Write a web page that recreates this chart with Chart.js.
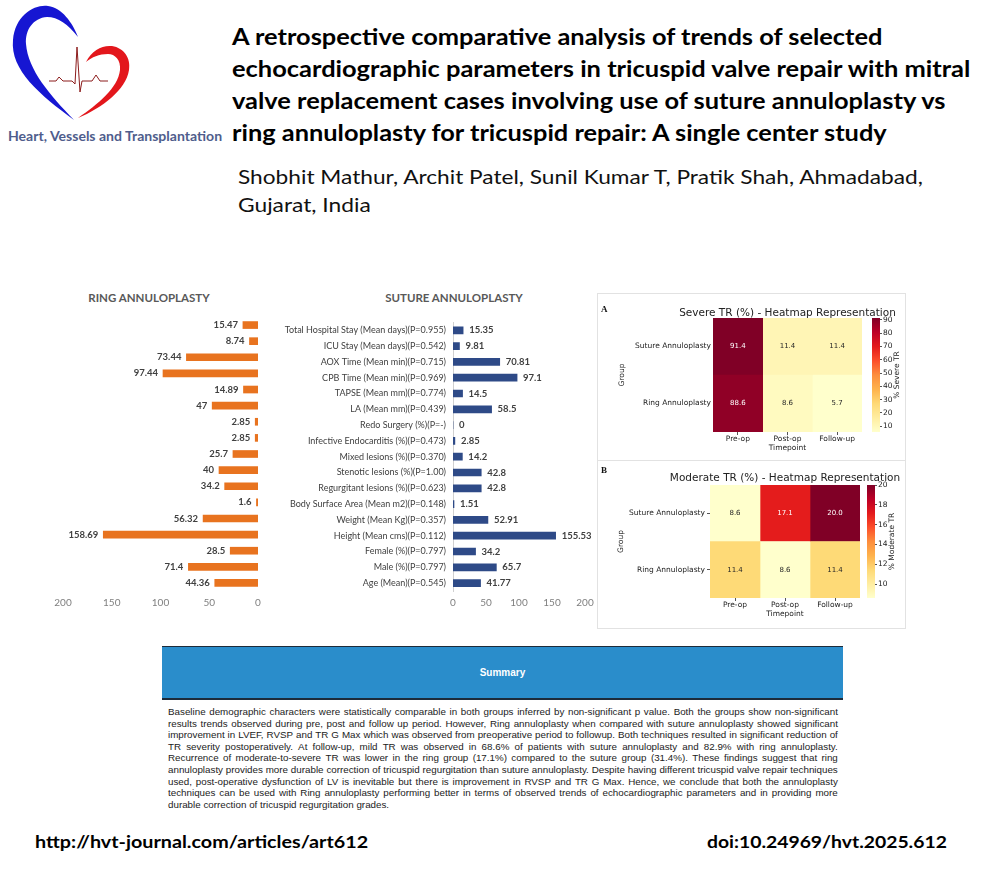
<!DOCTYPE html>
<html>
<head>
<meta charset="utf-8">
<script src="https://cdn.jsdelivr.net/npm/chart.js@4.4.1/dist/chart.umd.min.js"></script>
<style>
html, body { margin:0; padding:0; background:#fff; }
body { width:982px; height:870px; position:relative; overflow:hidden; font-family:Lato, "Open Sans", sans-serif; }
.fit { position:absolute; white-space:nowrap; transform-origin:0 50%; }
.ttl { font-weight:700; font-size:22px; line-height:32px; color:#000; }
.auth { font-size:19px; line-height:28px; color:#111; }
.box { position:absolute; }
.box canvas { display:block; }
.ctitle { position:absolute; font-weight:700; font-size:11.5px; color:#595959; white-space:nowrap; transform:translateX(-50%); line-height:14px; }
.panel { position:absolute; left:597px; top:293px; width:307px; height:334px; border:1px solid #e2e2e2; }
.sep { position:absolute; left:597px; top:460px; width:308px; height:1px; background:#e2e2e2; }
.plabel { position:absolute; font:bold 9px "Liberation Serif", serif; color:#111; }
.summary { position:absolute; left:162px; top:646px; width:681px; height:51px; background:#2A8DCB; border-top:1px solid #1d2b3a; border-bottom:2px solid #1d2b3a; color:#fff; font:bold 10px "Liberation Sans", Arial, sans-serif; text-align:center; line-height:51px; }
.sl { position:absolute; left:168px; white-space:nowrap; font:9.8px "Liberation Sans", Arial, sans-serif; color:#222; line-height:11.6px; transform-origin:0 50%; }
.foot { font-weight:700; font-size:17px; line-height:20px; color:#000; }
</style>
</head>
<body>

<svg class="box" style="left:0;top:0" width="140" height="125" viewBox="0 0 140 125">
  <path d="M74,120 C40,95 10,70 13,40 C15,15 35,4 48,6 C62,8 72,22 78,37 C68,24 58,17 47,17 C33,18 25,30 26,44 C28,70 50,95 74,120 Z" fill="#1616d2"/>
  <path d="M86,62 C92,50 102,45 112,46 C124,48 131,58 129,70 C126,90 102,108 78,118 C98,104 118,88 120,70 C121,60 115,54 108,54 C99,54 92,57 86,62 Z" fill="#e3171c"/>
  <polyline points="49,81 56,81 59,77 63,81 72,81 75,84 77,47 80,92 82,81 92,81 96,75 100,81 108,81" fill="none" stroke="#8c1c1c" stroke-width="1"/>
</svg>
<div class="fit" data-w="214" style="left:8px;top:128px;font-weight:700;font-size:13px;line-height:16px;color:#4f5d8c">Heart, Vessels and Transplantation</div>

<div class="fit ttl" data-w="650" style="left:232px;top:21px">A retrospective comparative analysis of trends of selected</div>
<div class="fit ttl" data-w="738" style="left:232px;top:53px">echocardiographic parameters in tricuspid valve repair with mitral</div>
<div class="fit ttl" data-w="713" style="left:232px;top:85px">valve replacement cases involving use of suture annuloplasty vs</div>
<div class="fit ttl" data-w="655" style="left:232px;top:117px">ring annuloplasty for tricuspid repair: A single center study</div>
<div class="fit auth" data-w="685" style="left:238px;top:163px">Shobhit Mathur, Archit Patel, Sunil Kumar T, Pratik Shah, Ahmadabad,</div>
<div class="fit auth" data-w="133" style="left:238px;top:191px">Gujarat, India</div>

<div class="ctitle" style="left:149px;top:291px">RING ANNULOPLASTY</div>
<div class="ctitle" style="left:454px;top:291px">SUTURE ANNULOPLASTY</div>
<div class="box" style="left:40px;top:310px;width:235px;height:305px"><canvas id="ringChart"></canvas></div>
<div class="box" style="left:270px;top:310px;width:330px;height:305px"><canvas id="sutureChart"></canvas></div>

<div class="panel"></div>
<div class="sep"></div>
<div class="plabel" style="left:601px;top:304px">A</div>
<div class="plabel" style="left:601px;top:465px">B</div>
<div class="box" style="left:598px;top:297px;width:307px;height:162px"><canvas id="severeMap"></canvas></div>
<div class="box" style="left:866px;top:297px;width:39px;height:162px"><canvas id="severeBar"></canvas></div>
<div class="box" style="left:598px;top:461px;width:307px;height:167px"><canvas id="moderateMap"></canvas></div>
<div class="box" style="left:862px;top:461px;width:43px;height:167px"><canvas id="moderateBar"></canvas></div>

<div class="summary">Summary</div>
<div class="sl" style="top:706px">Baseline demographic characters were statistically comparable in both groups inferred by non-significant p value. Both the groups show non-significant</div>
<div class="sl" style="top:717.6px">results trends observed during pre, post and follow up period. However, Ring annuloplasty when compared with suture annuloplasty showed significant</div>
<div class="sl" style="top:729.2px">improvement in LVEF, RVSP and TR G Max which was observed from preoperative period to followup. Both techniques resulted in significant reduction of</div>
<div class="sl" style="top:740.8px">TR severity postoperatively. At follow-up, mild TR was observed in 68.6% of patients with suture annuloplasty and 82.9% with ring annuloplasty.</div>
<div class="sl" style="top:752.4px">Recurrence of moderate-to-severe TR was lower in the ring group (17.1%) compared to the suture group (31.4%). These findings suggest that ring</div>
<div class="sl" style="top:764px">annuloplasty provides more durable correction of tricuspid regurgitation than suture annuloplasty. Despite having different tricuspid valve repair techniques</div>
<div class="sl" style="top:775.6px">used, post-operative dysfunction of LV is inevitable but there is improvement in RVSP and TR G Max. Hence, we conclude that both the annuloplasty</div>
<div class="sl" style="top:787.2px">techniques can be used with Ring annuloplasty performing better in terms of observed trends of echocardiographic parameters and in providing more</div>
<div class="sl last" style="top:798.8px">durable correction of tricuspid regurgitation grades.</div>

<div class="fit foot" data-w="333" style="left:35px;top:832px">http://hvt-journal.com/articles/art612</div>
<div class="fit foot" data-w="240" style="left:707px;top:832px">doi:10.24969/hvt.2025.612</div>

<script>
// bar chart data (top to bottom)
const categories = [
  'Total Hospital Stay (Mean days)(P=0.955)', 'ICU Stay (Mean days)(P=0.542)',
  'AOX Time (Mean min)(P=0.715)', 'CPB Time (Mean min)(P=0.969)',
  'TAPSE (Mean mm)(P=0.774)', 'LA (Mean mm)(P=0.439)', 'Redo Surgery (%)(P=-)',
  'Infective Endocarditis (%)(P=0.473)', 'Mixed lesions (%)(P=0.370)',
  'Stenotic lesions (%)(P=1.00)', 'Regurgitant lesions (%)(P=0.623)',
  'Body Surface Area (Mean m2)(P=0.148)', 'Weight (Mean Kg)(P=0.357)',
  'Height (Mean cms)(P=0.112)', 'Female (%)(P=0.797)', 'Male (%)(P=0.797)', 'Age (Mean)(P=0.545)'
];
const ringValues = [15.47, 8.74, 73.44, 97.44, 14.89, 47, 2.85, 2.85, 25.7, 40, 34.2, 1.6, 56.32, 158.69, 28.5, 71.4, 44.36];
const sutureValues = [15.35, 9.81, 70.81, 97.1, 14.5, 58.5, 0, 2.85, 14.2, 42.8, 42.8, 1.51, 52.91, 155.53, 34.2, 65.7, 41.77];
const barTicks = [0, 50, 100, 150, 200];

// heatmap data
const timepoints = ['Pre-op', 'Post-op', 'Follow-up'];
const groups = ['Suture Annuloplasty', 'Ring Annuloplasty'];
const severeSuture = [91.4, 11.4, 11.4];
const severeRing = [88.6, 8.6, 5.7];
const moderateSuture = [8.6, 17.1, 20.0];
const moderateRing = [11.4, 8.6, 11.4];
const severeTicks = [10, 20, 30, 40, 50, 60, 70, 80, 90];
const moderateTicks = [10, 12, 14, 16, 18, 20];

const ringColor = '#E8731F';
const sutureColor = '#2E4A87';
const ylOrRdStops = ['#ffffcc', '#ffeda0', '#fed976', '#feb24c', '#fd8d3c', '#fc4e2a', '#e31a1c', '#bd0026', '#800026'];

Chart.defaults.font.family = 'Lato';
Chart.defaults.animation = false;
Chart.defaults.plugins.legend.display = false;
Chart.defaults.plugins.tooltip.enabled = false;

function hexRgb(h) {
  return [parseInt(h.slice(1, 3), 16), parseInt(h.slice(3, 5), 16), parseInt(h.slice(5, 7), 16)];
}
function ylOrRd(t) {
  t = Math.max(0, Math.min(1, t));
  const p = t * (ylOrRdStops.length - 1);
  const i = Math.min(Math.floor(p), ylOrRdStops.length - 2);
  const f = p - i;
  const a = hexRgb(ylOrRdStops[i]), b = hexRgb(ylOrRdStops[i + 1]);
  return a.map((c, k) => Math.round(c + (b[k] - c) * f));
}
function luminance(rgb) {
  const l = rgb.map(c => { c /= 255; return c <= 0.03928 ? c / 12.92 : Math.pow((c + 0.055) / 1.055, 2.4); });
  return 0.2126 * l[0] + 0.7152 * l[1] + 0.0722 * l[2];
}

const barValueLabels = {
  id: 'barValueLabels',
  afterDatasetsDraw(chart, args, opts) {
    const ctx = chart.ctx;
    const vals = chart.data.datasets[0].data;
    ctx.save();
    ctx.font = opts.font;
    ctx.fillStyle = opts.color;
    ctx.textBaseline = 'middle';
    ctx.textAlign = opts.side === 'left' ? 'right' : 'left';
    chart.getDatasetMeta(0).data.forEach((bar, i) => {
      const x = opts.side === 'left' ? bar.x - opts.gap : bar.x + opts.gap;
      ctx.fillText(String(vals[i]), x, bar.y);
    });
    ctx.restore();
  }
};

// cell values + title over the cells (the built-in title squeezes to the chart width)
const cellLabels = {
  id: 'cellLabels',
  afterDatasetsDraw(chart, args, opts) {
    const ctx = chart.ctx;
    ctx.save();
    ctx.font = '7px "DejaVu Sans"';
    ctx.textAlign = 'center';
    ctx.textBaseline = 'middle';
    chart.data.datasets.forEach((ds, di) => {
      chart.getDatasetMeta(di).data.forEach((el, i) => {
        const c = el.getCenterPoint();
        ctx.fillStyle = luminance(ds.rgb[i]) < 0.408 ? '#ffffff' : '#262626';
        ctx.fillText(ds.values[i].toFixed(1), c.x, c.y);
      });
    });
    const a = chart.chartArea;
    ctx.font = '10.5px "DejaVu Sans"';
    ctx.fillStyle = '#222';
    ctx.fillText(opts.text, (a.left + a.right) / 2, opts.y);
    ctx.restore();
  }
};

const cbTitle = {
  id: 'cbTitle',
  afterDraw(chart, args, opts) {
    const a = chart.chartArea, ctx = chart.ctx;
    ctx.save();
    ctx.translate(opts.x, (a.top + a.bottom) / 2);
    ctx.rotate(-Math.PI / 2);
    ctx.textAlign = 'center';
    ctx.textBaseline = 'middle';
    ctx.font = '7.5px "DejaVu Sans"';
    ctx.fillStyle = '#222';
    ctx.fillText(opts.text, 0, 0);
    ctx.restore();
  }
};

// ring annuloplasty (mirrored)
new Chart(document.getElementById('ringChart'), {
  type: 'bar',
  data: { labels: categories, datasets: [{ data: ringValues, backgroundColor: ringColor, barThickness: 7 }] },
  options: {
    indexAxis: 'y', responsive: true, maintainAspectRatio: false,
    layout: { padding: { left: 23, right: 17, top: 7, bottom: 0 } },
    scales: {
      x: {
        reverse: true, min: 0, max: 200,
        afterBuildTicks: s => { s.ticks = barTicks.map(v => ({ value: v })); },
        grid: { display: false, drawTicks: false }, border: { display: false },
        ticks: { padding: 6, color: '#7f7f7f', font: { size: 10 } }
      },
      y: { display: false }
    },
    plugins: { barValueLabels: { side: 'left', gap: 5, font: 'bold 9.5px Lato', color: '#404040' } }
  },
  plugins: [barValueLabels]
});

// suture annuloplasty
new Chart(document.getElementById('sutureChart'), {
  type: 'bar',
  data: { labels: categories, datasets: [{ data: sutureValues, backgroundColor: sutureColor, barThickness: 7 }] },
  options: {
    indexAxis: 'y', responsive: true, maintainAspectRatio: false,
    layout: { padding: { left: 0, right: 15, top: 7, bottom: 0 } },
    scales: {
      x: {
        min: 0, max: 200,
        afterBuildTicks: s => { s.ticks = barTicks.map(v => ({ value: v })); },
        grid: { display: false, drawTicks: false }, border: { display: false },
        ticks: { padding: 6, color: '#7f7f7f', font: { size: 10 } }
      },
      y: {
        afterFit: s => { s.width = 183; },
        grid: { display: false, drawTicks: false },
        border: { display: true, color: '#d0d0d0' },
        ticks: { padding: 7, color: '#404040', font: { size: 9 } }
      }
    },
    plugins: { barValueLabels: { side: 'right', gap: 6, font: 'bold 9.5px Lato', color: '#404040' } }
  },
  plugins: [barValueLabels]
});

function heatmap(mapId, barId, title, barTitle, rows, cbTicks, o) {
  const all = rows.flat();
  const vmin = Math.min(...all), vmax = Math.max(...all);
  const norm = v => (v - vmin) / (vmax - vmin);
  const hm = { family: 'DejaVu Sans', size: 7.5 };

  new Chart(document.getElementById(mapId), {
    type: 'bar',
    data: {
      labels: groups,
      datasets: timepoints.map((tp, j) => {
        const rgb = rows.map(r => ylOrRd(norm(r[j])));
        return {
          label: tp,
          data: rows.map(() => [j, j + 1]),
          values: rows.map(r => r[j]),
          rgb: rgb,
          backgroundColor: rgb.map(c => 'rgb(' + c.join(',') + ')'),
          grouped: false, barPercentage: 1, categoryPercentage: 1, borderWidth: 0
        };
      })
    },
    options: {
      indexAxis: 'y', responsive: true, maintainAspectRatio: false,
      layout: { padding: { left: 0, right: o.right, top: o.top, bottom: o.bottom } },
      scales: {
        x: {
          min: 0, max: timepoints.length,
          afterBuildTicks: s => { s.ticks = timepoints.map((_, j) => ({ value: j + 0.5 })); },
          ticks: { callback: (v, i) => timepoints[i], color: '#222', padding: 0, maxRotation: 0, font: hm },
          grid: { drawOnChartArea: false, tickLength: 3, color: '#555' }, border: { display: false },
          title: { display: true, text: 'Timepoint', color: '#222', padding: 0, font: hm }
        },
        y: {
          afterFit: s => { s.width = o.yWidth; },
          grid: { offset: false, drawOnChartArea: false, drawTicks: o.yTicks, tickLength: 3, color: '#555' },
          border: { display: false },
          ticks: { color: '#222', padding: 2, font: hm },
          title: { display: true, text: 'Group', color: '#222', padding: { top: o.groupPad, bottom: 0 }, font: hm }
        }
      },
      plugins: { cellLabels: { text: title, y: o.titleY } }
    },
    plugins: [cellLabels]
  });

  new Chart(document.getElementById(barId), {
    type: 'bar',
    data: {
      labels: [''],
      datasets: [{
        data: [[vmin, vmax]],
        backgroundColor: ctx => {
          const a = ctx.chart.chartArea;
          if (!a) return ylOrRdStops[0];
          const g = ctx.chart.ctx.createLinearGradient(0, a.bottom, 0, a.top);
          ylOrRdStops.forEach((c, k) => g.addColorStop(k / (ylOrRdStops.length - 1), c));
          return g;
        },
        barPercentage: 1, categoryPercentage: 1, borderWidth: 0
      }]
    },
    options: {
      responsive: true, maintainAspectRatio: false,
      layout: { padding: o.cbPad },
      scales: {
        x: { display: false },
        y: {
          position: 'right', min: vmin, max: vmax,
          afterBuildTicks: s => { s.ticks = cbTicks.map(v => ({ value: v })); },
          afterFit: s => { s.width = o.cbWidth; },
          grid: { drawOnChartArea: false, tickLength: 2, color: '#555' }, border: { display: false },
          ticks: { color: '#222', padding: 1, font: hm }
        }
      },
      plugins: { cbTitle: { text: barTitle, x: o.cbTitleX } }
    },
    plugins: [cbTitle]
  });
}

heatmap('severeMap', 'severeBar', 'Severe TR (%) - Heatmap Representation', '% Severe TR',
  [severeSuture, severeRing], severeTicks,
  { right: 43, top: 21, bottom: 6, yWidth: 115, yTicks: false, groupPad: 19.5, titleY: 16,
    cbPad: { left: 6, right: 0, top: 21, bottom: 27 }, cbWidth: 25, cbTitleX: 31 });

heatmap('moderateMap', 'moderateBar', 'Moderate TR (%) - Heatmap Representation', '% Moderate TR',
  [moderateSuture, moderateRing], moderateTicks,
  { right: 45, top: 24, bottom: 9, yWidth: 112, yTicks: true, groupPad: 18.5, titleY: 17,
    cbPad: { left: 5, right: 0, top: 24, bottom: 30 }, cbWidth: 30, cbTitleX: 30 });

// stretch text lines to the widths of the original
function fitText() {
  document.querySelectorAll('.fit').forEach(el => {
    const w = el.offsetWidth;
    el.style.transform = 'scaleX(' + (Number(el.dataset.w) / w) + ')';
  });
  document.querySelectorAll('.sl').forEach(el => {
    const target = 670;
    const natural = el.offsetWidth;
    if (natural > target) {
      el.style.transform = 'scaleX(' + (target / natural) + ')';
    } else if (!el.classList.contains('last')) {
      const words = el.textContent.trim().split(/\s+/);
      el.textContent = '';
      el.style.display = 'flex';
      el.style.justifyContent = 'space-between';
      el.style.width = target + 'px';
      words.forEach(wd => { const s = document.createElement('span'); s.textContent = wd; el.appendChild(s); });
    }
  });
}
if (document.fonts && document.fonts.ready) document.fonts.ready.then(fitText); else fitText();
</script>
</body>
</html>
